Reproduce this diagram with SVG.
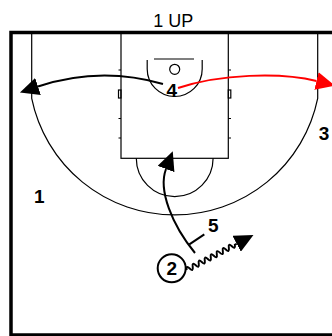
<svg xmlns="http://www.w3.org/2000/svg" width="332" height="336" viewBox="0 0 332 336">
<style>
.court{fill:none;stroke:#000;stroke-width:1.2}
.border{fill:none;stroke:#000;stroke-width:3.5}
.mv{fill:none;stroke:#000;stroke-width:2}
.pass{fill:none;stroke:#f00;stroke-width:2}
.lbl{font-family:"Liberation Sans",Arial,sans-serif;font-weight:bold;font-size:19px;text-anchor:middle;fill:#000}
.title{font-family:"Liberation Sans",Arial,sans-serif;font-size:18px;text-anchor:middle;fill:#000}
</style>
<defs>
<marker id="ahB" viewBox="0 0 19 18" refX="0" refY="9" markerUnits="userSpaceOnUse" markerWidth="19" markerHeight="18" orient="auto">
<path d="M0,0 L19,9 L0,18 z" fill="#000"/>
</marker>
<marker id="ahR" viewBox="0 0 19 18" refX="0" refY="9" markerUnits="userSpaceOnUse" markerWidth="19" markerHeight="18" orient="auto">
<path d="M0,0 L19,9 L0,18 z" fill="#f00"/>
</marker>
</defs>
<rect width="332" height="336" fill="#fff"/>
<text class="title" x="173.3" y="26.5">1 UP</text>
<g id="court">
<rect class="border" x="11" y="32.5" width="340" height="302.5"/>
<path class="court" d="M31.7,33 V98.4 A146,146 0 0 0 317.7,98.4 V33"/>
<rect class="court" x="121" y="33" width="107.3" height="125.3"/>
<path class="court" d="M118.5,70 H121 M118.5,118.5 H121 M118.5,138 H121 M228.3,70 H231 M228.3,118.5 H231 M228.3,138 H231"/>
<rect class="court" x="118.5" y="90" width="2.5" height="8"/>
<rect class="court" x="228.3" y="90" width="2.5" height="8"/>
<line x1="154" y1="59" x2="194" y2="59" stroke="#555" stroke-width="1.5"/>
<circle class="court" cx="174.7" cy="69.3" r="5"/>
<path class="court" d="M147.2,60 V69 A27.5,27.5 0 0 0 202.2,69 V60"/>
<path class="court" d="M136.3,158.3 A38.4,38.4 0 0 0 213.1,158.3"/>
</g>
<g id="connectors">
<path class="mv" d="M163,84 C125,73 85,71 38,86.5" marker-end="url(#ahB)"/>
<path class="pass" d="M178,88 C220,74 280,72 316.5,81" marker-end="url(#ahR)"/>
<path class="mv" d="M195,253 C172,225 158,190 166,169" marker-end="url(#ahB)"/>
<line class="mv" x1="189.3" y1="244.3" x2="204.3" y2="234.3"/>
<g transform="translate(186.7,270) rotate(-27.7)">
<path class="mv" stroke-width="1.8" d="M0,0 q1.7,-5 3.4,0 q1.7,5 3.4,0 q1.7,-5 3.4,0 q1.7,5 3.4,0 q1.7,-5 3.4,0 q1.7,5 3.4,0 q1.7,-5 3.4,0 q1.7,5 3.4,0 q1.7,-5 3.4,0 q1.7,5 3.4,0 q1.7,-5 3.4,0 q1.7,5 3.4,0 q1.7,-5 3.4,0 q1.7,5 3.4,0 q1.7,-5 3.4,0 q1.7,5 3.4,0 l2,0" marker-end="url(#ahB)"/>
</g>
</g>
<g id="p4"><text class="lbl" x="171.7" y="97">4</text></g>
<g id="p3"><text class="lbl" x="324" y="140">3</text></g>
<g id="p1"><text class="lbl" x="39.2" y="202.5">1</text></g>
<g id="p5"><text class="lbl" x="213.3" y="232">5</text></g>
<g id="p2">
<circle cx="171.7" cy="268.3" r="14" fill="#fff" stroke="#000" stroke-width="2"/>
<text class="lbl" x="171.7" y="275">2</text>
</g>
</svg>
